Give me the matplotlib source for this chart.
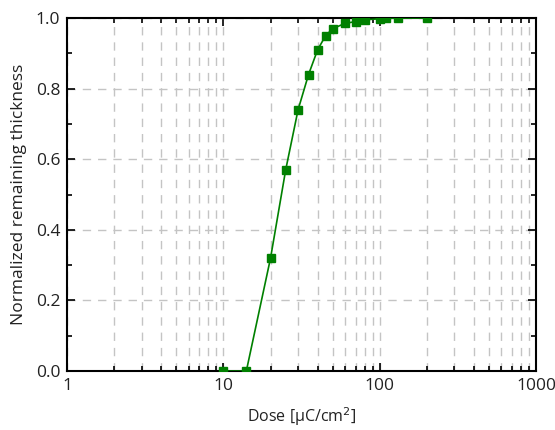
import numpy as np
import matplotlib
matplotlib.use('Agg')
import matplotlib.pyplot as plt
from matplotlib.ticker import MultipleLocator, LogLocator, FixedFormatter, FixedLocator

plt.rcParams['font.family'] = ['Open Sans', 'DejaVu Sans']

# dose in uC/cm^2 and normalized remaining thickness
dose = [10, 14, 20, 25, 30, 35, 40, 45, 50, 60, 70, 80, 100, 110, 130, 200]
thickness = [0.0, 0.0, 0.32, 0.57, 0.74, 0.84, 0.91, 0.95, 0.97, 0.985, 0.99, 0.995,
             0.998, 0.999, 1.0, 1.0]

x_ticks = [1, 10, 100, 1000]
x_ticklabels = ['1', '10', '100', '1000']
y_ticks = [0.0, 0.2, 0.4, 0.6, 0.8, 1.0]

fig = plt.figure(figsize=(5.55, 4.30), dpi=100)
ax = fig.add_axes([0.121, 0.137, 0.845, 0.821])

ax.plot(dose, thickness, color='#008000', lw=1.2, marker='s', ms=5.5,
        markeredgecolor='#008000', zorder=3)

ax.set_xscale('log')
ax.set_xlim(1, 1000)
ax.set_ylim(0, 1.0)

ax.xaxis.set_major_locator(FixedLocator(x_ticks))
ax.xaxis.set_major_formatter(FixedFormatter(x_ticklabels))
ax.xaxis.set_minor_locator(LogLocator(base=10, subs=np.arange(2, 10)))
ax.xaxis.set_minor_formatter(FixedFormatter([]))
ax.yaxis.set_major_locator(FixedLocator(y_ticks))
ax.yaxis.set_minor_locator(MultipleLocator(0.1))
ax.set_yticklabels(['%.1f' % v for v in y_ticks])

ax.grid(which='major', axis='both', color='#c4c4c4', ls=(0, (6, 5)), lw=1.0)
ax.grid(which='minor', axis='x', color='#c4c4c4', ls=(0, (6, 5)), lw=1.0)

ax.tick_params(which='both', direction='in', top=True, right=True, labelsize=12.5,
               colors='black', labelcolor='#222222', width=1.2)
ax.tick_params(which='major', length=6, pad=5)
ax.tick_params(which='minor', length=3.5)
for s in ax.spines.values():
    s.set_linewidth(1.5)

ax.set_xlabel('Dose [μC/cm$^2$]', fontsize=11.5, labelpad=8, color='#222222')
ax.set_ylabel('Normalized remaining thickness', fontsize=12.5, labelpad=6, color='#222222')

fig.savefig('out.png', dpi=100)
